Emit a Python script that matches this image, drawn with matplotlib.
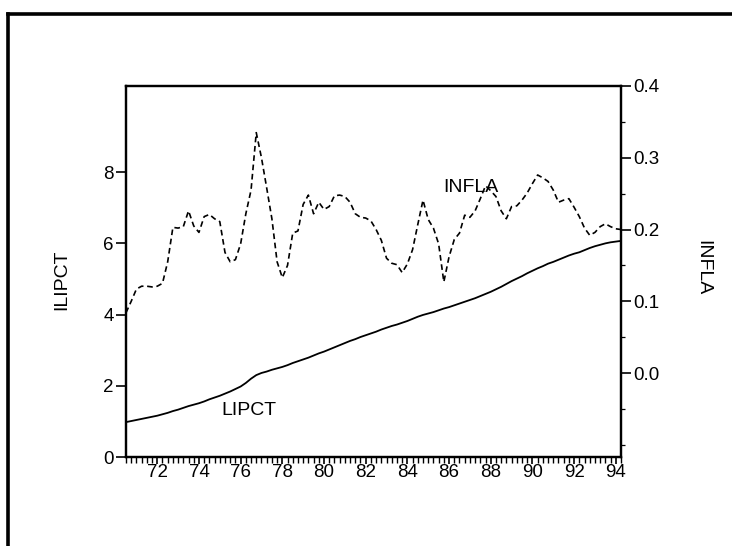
import numpy as np
import matplotlib
matplotlib.use("Agg")
import matplotlib.pyplot as plt
from matplotlib.lines import Line2D

plt.rcParams['font.family'] = ['Liberation Sans', 'DejaVu Sans']

# quarterly observations 1970Q3 .. 1994Q2
start_year = 1970.5
lipct = [0.98, 1.01, 1.04, 1.07, 1.10, 1.13, 1.16, 1.20, 1.24, 1.29,
         1.33, 1.38, 1.43, 1.47, 1.51, 1.56, 1.62, 1.67, 1.72, 1.78,
         1.84, 1.91, 1.98, 2.08, 2.20, 2.30, 2.36, 2.40, 2.45, 2.49,
         2.53, 2.58, 2.64, 2.69, 2.74, 2.79, 2.85, 2.91, 2.96, 3.02,
         3.08, 3.14, 3.20, 3.26, 3.31, 3.37, 3.42, 3.47, 3.52, 3.58,
         3.63, 3.68, 3.72, 3.77, 3.82, 3.88, 3.94, 3.99, 4.03, 4.07,
         4.12, 4.17, 4.21, 4.26, 4.31, 4.36, 4.41, 4.46, 4.52, 4.58,
         4.64, 4.71, 4.78, 4.86, 4.94, 5.01, 5.08, 5.16, 5.23, 5.30,
         5.36, 5.43, 5.48, 5.54, 5.60, 5.66, 5.71, 5.75, 5.81, 5.87,
         5.92, 5.96, 6.00, 6.03, 6.05, 6.07]
infla = [0.084, 0.100, 0.117, 0.121, 0.121, 0.120, 0.121, 0.125, 0.155, 0.203,
         0.202, 0.204, 0.226, 0.205, 0.196, 0.218, 0.221, 0.215, 0.211, 0.168,
         0.155, 0.158, 0.180, 0.222, 0.255, 0.335, 0.300, 0.258, 0.215, 0.155,
         0.133, 0.150, 0.195, 0.198, 0.235, 0.248, 0.222, 0.238, 0.228, 0.232,
         0.247, 0.248, 0.246, 0.238, 0.222, 0.217, 0.216, 0.212, 0.200, 0.185,
         0.160, 0.153, 0.151, 0.140, 0.152, 0.172, 0.207, 0.241, 0.214, 0.202,
         0.180, 0.127, 0.162, 0.186, 0.195, 0.220, 0.217, 0.226, 0.243, 0.261,
         0.254, 0.246, 0.226, 0.215, 0.232, 0.233, 0.241, 0.251, 0.264, 0.276,
         0.272, 0.267, 0.255, 0.238, 0.241, 0.243, 0.231, 0.218, 0.202, 0.192,
         0.196, 0.204, 0.208, 0.204, 0.201, 0.200]
year_ticks = list(range(1972, 1995, 2))
year_labels = [str(y % 100) for y in year_ticks]
left_ticks = [0, 2, 4, 6, 8]
right_ticks = [0.0, 0.1, 0.2, 0.3, 0.4]

t = start_year + 0.25 * np.arange(len(lipct))

fig = plt.figure(figsize=(7.32, 5.46), dpi=100)
W, H = 732, 546
ax = fig.add_axes([126 / W, 1 - 457 / H, (621 - 126) / W, (457 - 86) / H])
ax2 = ax.twinx()

ax.plot(t, lipct, color='black', lw=1.3, solid_joinstyle='round')
ax2.plot(t, infla, color='black', lw=1.2, linestyle=(0, (3.4, 2.2)))

ax.set_xlim(t[0], t[-1])
ax.set_ylim(0, 10.42)
ax2.set_ylim(-0.117, 0.4)

ax.set_xticks(year_ticks)
ax.set_xticklabels(year_labels)
ax.set_xticks(np.arange(1970.5, 1994.3, 0.25), minor=True)
ax.set_yticks(left_ticks)
ax.set_yticklabels([str(v) for v in left_ticks])
ax2.set_yticks(right_ticks)
ax2.set_yticklabels(['%.1f' % v for v in right_ticks])
ax2.set_yticks(np.arange(-0.1, 0.4, 0.05), minor=True)

for a in (ax, ax2):
    for s in a.spines.values():
        s.set_linewidth(1.6)
        s.set_color('black')

ax.tick_params(axis='x', which='major', direction='out', length=5, width=1.2,
               labelsize=13.5, pad=0)
ax.tick_params(axis='x', which='minor', direction='out', length=4, width=1.0)
ax.tick_params(axis='y', which='major', direction='out', length=7, width=1.2,
               labelsize=13.5, pad=2)
ax2.tick_params(axis='y', which='major', direction='out', length=7, width=1.2,
                labelsize=13.5, pad=2)
ax2.tick_params(axis='y', which='minor', direction='out', length=3, width=0.9)

fig.text(62 / W, 1 - 280 / H, 'ILIPCT', rotation=90, ha='center', va='center',
         fontsize=14)
fig.text(703 / W, 1 - 268 / H, 'INFLA', rotation=270, ha='center', va='center',
         fontsize=14)

ax.text(1987.05, 7.56, 'INFLA', ha='center', va='center', fontsize=14)
ax.text(1976.4, 1.32, 'LIPCT', ha='center', va='center', fontsize=14)

# outer frame of the scanned page
fig.add_artist(Line2D([8 / W, 1.0], [1 - 14 / H, 1 - 14 / H], color='black',
                      lw=2.6, transform=fig.transFigure))
fig.add_artist(Line2D([8 / W, 8 / W], [1 - 14 / H, 0.0], color='black',
                      lw=2.6, transform=fig.transFigure))

fig.savefig('out.png', dpi=100)
